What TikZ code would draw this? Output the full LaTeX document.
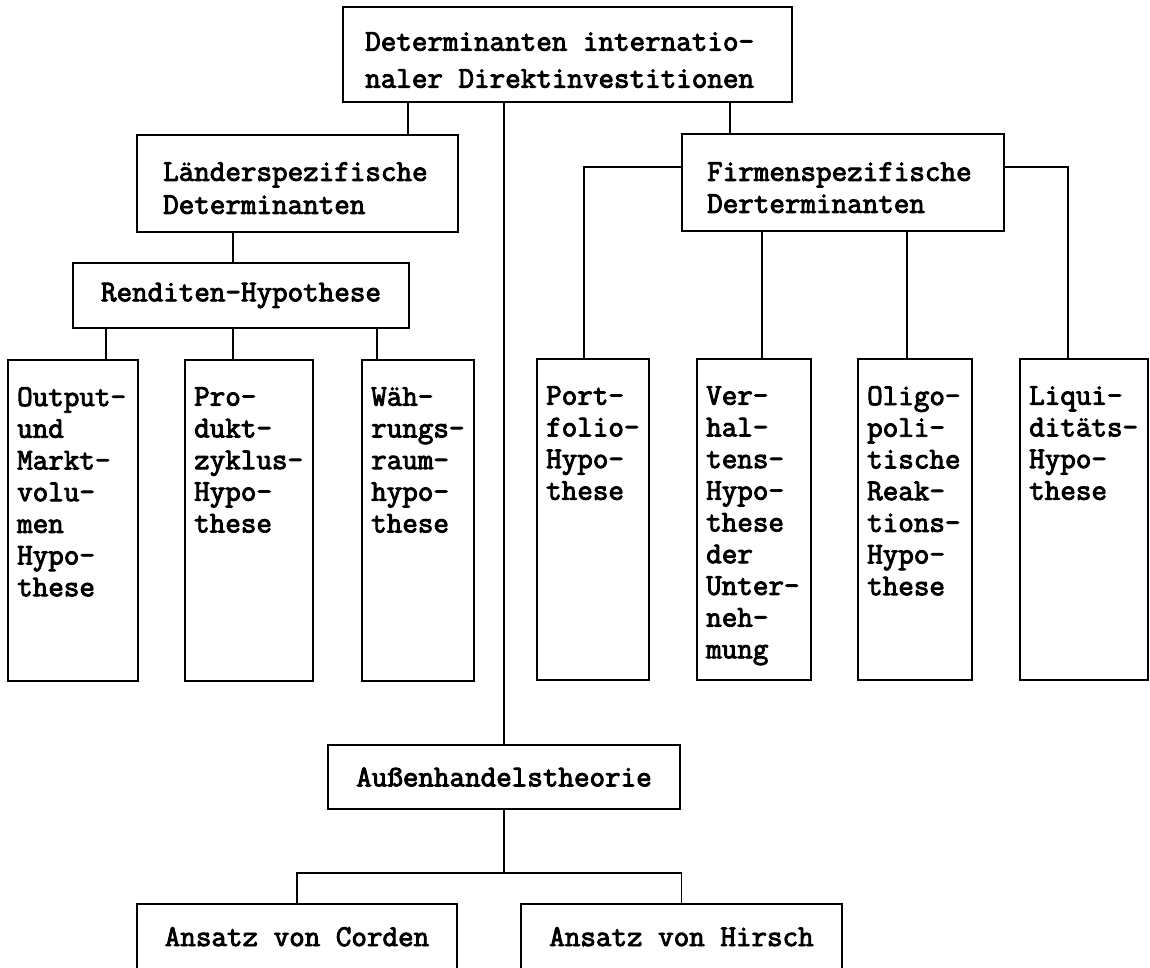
\documentclass[tikz,border=0pt]{standalone}
\usepackage{fontspec}
\newfontfamily\tw[FakeBold=3]{Latin Modern Mono}
\begin{document}
\begin{tikzpicture}[x=1pt,y=-1pt,
  box/.style={draw, line width=1.7pt, inner sep=0pt, rectangle},
  conn/.style={line width=1.7pt, line cap=rect},
  tfont/.style={font=\tw\fontsize{30.2}{31.7}\selectfont},
  txt/.style={tfont, inner sep=0pt, align=left, anchor=north west},
  ctxt/.style={tfont}]
\useasboundingbox (0,0) rectangle (1150,967);
\clip (0,0) rectangle (1150,967);
\fill[white] (0,0) rectangle (1150,967);

% boxes
\node[box, minimum width=449pt, minimum height=95pt] (top) at (567.5,54.5) {};
\node[box, minimum width=321pt, minimum height=97pt] (laender) at (297.5,183.5) {};
\node[box, ctxt, minimum width=336pt, minimum height=65pt] (rend) at (241,295.5) {Renditen-Hypothese};
\node[box, minimum width=130pt, minimum height=321pt] (output) at (73,520.5) {};
\node[box, minimum width=128pt, minimum height=321pt] (produkt) at (249,520.5) {};
\node[box, minimum width=112pt, minimum height=321pt] (waehr) at (418,520.5) {};
\node[box, minimum width=322pt, minimum height=97pt] (firmen) at (843,182.5) {};
\node[box, minimum width=112pt, minimum height=321pt] (port) at (593,519.5) {};
\node[box, minimum width=114pt, minimum height=321pt] (verh) at (754,519.5) {};
\node[box, minimum width=114pt, minimum height=321pt] (oligo) at (915,519.5) {};
\node[box, minimum width=128pt, minimum height=321pt] (liqu) at (1084,519.5) {};
\node[box, ctxt, minimum width=352pt, minimum height=64pt] (aussen) at (504,777) {Au\ss enhandelstheorie};
\node[box, minimum width=320pt, minimum height=96pt] (corden) at (297,952) {};
\node[box, minimum width=321pt, minimum height=96pt] (hirsch) at (681.5,952) {};

% texts
\node[txt, font=\tw\fontsize{30.2}{37}\selectfont] (topT) at (365,32) {Determinanten internatio-\\naler Direktinvestitionen};
\node[txt, font=\tw\fontsize{30.2}{33}\selectfont] (laenderT) at (163,162) {L\"anderspezifische\\Determinanten};
\node[txt, font=\tw\fontsize{30.2}{32}\selectfont] (firmenT) at (707,162) {Firmenspezifische\\Derterminanten};
\node[txt] (outputT) at (17,387) {Output-\\und\\Markt-\\volu-\\men\\Hypo-\\these};
\node[txt] (produktT) at (194,387) {Pro-\\dukt-\\zyklus-\\Hypo-\\these};
\node[txt] (waehrT) at (371,387) {W\"ah-\\rungs-\\raum-\\hypo-\\these};
\node[txt] (portT) at (546,386) {Port-\\folio-\\Hypo-\\these};
\node[txt] (verhT) at (706,386) {Ver-\\hal-\\tens-\\Hypo-\\these\\der\\Unter-\\neh-\\mung};
\node[txt] (oligoT) at (867,386) {Oligo-\\poli-\\tische\\Reak-\\tions-\\Hypo-\\these};
\node[txt] (liquT) at (1029,386) {Liqui-\\dit\"ats-\\Hypo-\\these};
\node[ctxt, inner sep=0pt, anchor=base] (cordenT) at (297,946) {Ansatz von Corden};
\node[ctxt, inner sep=0pt, anchor=base] (hirschT) at (681.5,946) {Ansatz von Hirsch};

% helper coordinates
\coordinate (c106) at (106,0);
\coordinate (c233) at (233,0);
\coordinate (c377) at (377,0);
\coordinate (c408) at (408,0);
\coordinate (c584) at (584,0);
\coordinate (c730) at (730,0);
\coordinate (c762) at (762,0);
\coordinate (c907) at (907,0);
\coordinate (c1068) at (1068,0);
\coordinate (yF) at (0,167);
\coordinate (yA) at (0,873);

% connectors
\draw[conn] (c408 |- top.south) -- (c408 |- laender.north);
\draw[conn] (top.south -| aussen.north) -- (aussen.north);
\draw[conn] (c730 |- top.south) -- (c730 |- firmen.north);
\draw[conn] (c233 |- laender.south) -- (c233 |- rend.north);
\draw[conn] (c106 |- rend.south) -- (c106 |- output.north);
\draw[conn] (c233 |- rend.south) -- (c233 |- produkt.north);
\draw[conn] (c377 |- rend.south) -- (c377 |- waehr.north);
\draw[conn] (firmen.west |- yF) -| (c584 |- port.north);
\draw[conn] (c762 |- firmen.south) -- (c762 |- verh.north);
\draw[conn] (c907 |- firmen.south) -- (c907 |- oligo.north);
\draw[conn] (firmen.east |- yF) -| (c1068 |- liqu.north);
\draw[conn] (aussen.south) -- (aussen.south |- yA);
\draw[conn] (corden.north) -- (corden.north |- yA) -- (hirsch.north |- yA) -- (hirsch.north);
\end{tikzpicture}
\end{document}
